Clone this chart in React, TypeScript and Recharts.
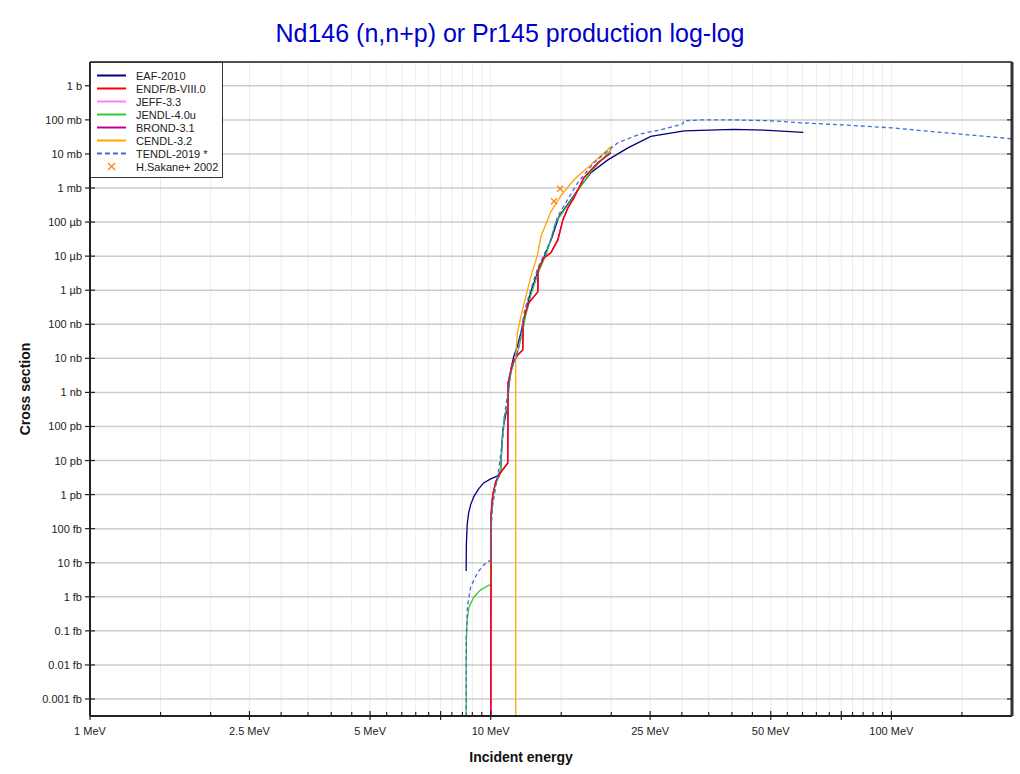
import React from "react";
import { ComposedChart, Line, Scatter, XAxis, YAxis, CartesianGrid } from "recharts";

const FONT = "'Liberation Sans', Arial, Helvetica, sans-serif";

// energy axis ticks (MeV)
const xLabelled = [1, 2.5, 5, 10, 25, 50, 100];
const xMajor = [1, 2.5, 5, 7.5, 10, 25, 50, 75, 100];
const xMinor = [
  1.5, 2, 3, 3.5, 4, 4.5, 5.5, 6, 6.5, 7, 8, 8.5, 9, 9.5,
  15, 20, 30, 35, 40, 45, 55, 60, 65, 70, 80, 85, 90, 95, 150,
];
const xAll = [...xMajor, ...xMinor].sort((a, b) => a - b);

// cross section ticks (barn)
const yTicks = [
  1, 1e-1, 1e-2, 1e-3, 1e-4, 1e-5, 1e-6, 1e-7, 1e-8, 1e-9,
  1e-10, 1e-11, 1e-12, 1e-13, 1e-14, 1e-15, 1e-16, 1e-17, 1e-18,
];
const yLabels = [
  "1 b", "100 mb", "10 mb", "1 mb", "100 µb", "10 µb", "1 µb", "100 nb", "10 nb", "1 nb",
  "100 pb", "10 pb", "1 pb", "100 fb", "10 fb", "1 fb", "0.1 fb", "0.01 fb", "0.001 fb",
];

// [energy MeV, cross section b]
const eaf2010: [number, number][] = [
  [8.685, 5.75e-15], [8.695, 3.3e-14], [8.735, 1.29e-13], [8.81, 2.9e-13], [8.91, 5.0e-13],
  [9.07, 8.6e-13], [9.33, 1.47e-12], [9.6, 2.2e-12], [10.0, 2.9e-12], [10.41, 3.55e-12],
  [10.59, 4.97e-12], [10.65, 2.06e-11], [10.72, 7.9e-11], [10.9, 2.19e-10], [11.03, 4.3e-10],
  [11.09, 1.36e-9], [11.22, 4.6e-9], [11.41, 1.1e-8], [11.68, 2.49e-8], [11.95, 6.9e-8],
  [12.23, 2.3e-7], [12.59, 8.95e-7], [13.11, 3.46e-6], [13.73, 1.25e-5], [14.21, 3.45e-5],
  [14.79, 1.43e-4], [15.85, 4.5e-4], [16.5, 8.85e-4], [17.78, 2.8e-3], [19.61, 6.7e-3],
  [22.0, 0.0151], [25.1, 0.0329], [30.4, 0.0477], [40.5, 0.0528], [49.3, 0.0493], [60.3, 0.0431],
];

const endf8: [number, number][] = [
  [10.0, 1e-22], [10.02, 2.54e-13], [10.12, 9.8e-13], [10.29, 2.36e-12], [10.53, 4.06e-12],
  [11.03, 8.5e-12], [11.05, 1.9e-9], [11.35, 7.4e-9], [11.68, 1.26e-8], [12.02, 1.77e-8],
  [12.06, 1.35e-7], [12.45, 4.26e-7], [13.11, 8.95e-7], [13.13, 3.96e-6], [13.57, 8.9e-6],
  [14.13, 1.25e-5], [14.71, 3.0e-5], [15.14, 1.16e-4], [15.58, 2.6e-4], [16.13, 5.15e-4],
  [17.08, 1.99e-3], [18.52, 5.5e-3], [19.95, 0.0108],
];

// JEFF-3.3 and BROND-3.1 lie under the ENDF curve
const jeff33: [number, number][] = endf8;
const brond31: [number, number][] = endf8;

const jendl4: [number, number][] = [
  [8.685, 1e-22], [8.695, 5.4e-17], [8.735, 2.1e-16], [8.83, 5.05e-16], [9.08, 9.9e-16],
  [9.44, 1.6e-15], [10.0, 2.34e-15], [10.02, 1.81e-13], [10.19, 1.38e-12], [10.39, 2.7e-12],
  [10.55, 3.8e-12], [10.7, 4.0e-11], [10.8, 1.9e-10], [11.01, 3.8e-10], [11.11, 1.9e-9],
  [11.33, 5.6e-9], [11.66, 1.45e-8], [11.95, 4.6e-8], [12.23, 1.77e-7], [12.59, 6.8e-7],
  [13.11, 3.0e-6], [13.8, 1.25e-5], [14.54, 1.0e-4], [15.85, 4.2e-4], [17.78, 3.0e-3],
  [19.95, 0.0132],
];

const cendl32: [number, number][] = [
  [11.55, 1e-22], [11.55, 1.26e-8], [11.66, 5.6e-8], [11.89, 1.65e-7], [12.09, 3.7e-7],
  [12.59, 2.47e-6], [13.09, 1.09e-5], [13.34, 3.7e-5], [14.13, 2.0e-4], [14.96, 5.9e-4],
  [16.13, 1.74e-3], [17.78, 4.8e-3], [20.07, 0.0173],
];

const tendl2019: [number, number][] = [
  [8.675, 1e-22], [8.685, 5.4e-17], [8.746, 5.05e-16], [8.913, 1.95e-15], [9.26, 5.0e-15],
  [9.6, 8.6e-15], [10.0, 1.21e-14], [10.03, 9.2e-14], [10.1, 4.35e-13], [10.29, 1.69e-12],
  [10.47, 5.3e-12], [10.7, 4.0e-11], [10.9, 3.8e-10], [11.22, 3.75e-9], [11.55, 1.1e-8],
  [11.75, 2.17e-8], [12.16, 2.65e-7], [12.59, 1.03e-6], [13.11, 4.5e-6], [13.65, 1.25e-5],
  [14.13, 3.0e-5], [14.68, 1.43e-4], [15.55, 4.5e-4], [16.48, 1.42e-3], [18.1, 5.5e-3],
  [20.74, 0.0212], [23.7, 0.039], [26.6, 0.051], [30.2, 0.0766], [30.3, 0.0938],
  [33.5, 0.1], [40.5, 0.1], [50.1, 0.094], [59.6, 0.082], [75.0, 0.0716],
  [100, 0.0585], [128, 0.0446], [155.8, 0.0364], [200, 0.0278],
];

const sakane2002: [number, number][] = [
  [14.39, 4.1e-4], [14.9, 9.5e-4],
];

const toPoints = (arr: [number, number][]) => arr.map(([e, xs]) => ({ e, xs }));

// drawing order: ENDF on top of JEFF/BROND
const series = [
  { name: "EAF-2010", color: "#000080", data: eaf2010, legend: 0 },
  { name: "JEFF-3.3", color: "#ff80ff", data: jeff33, legend: 2 },
  { name: "BROND-3.1", color: "#c00090", data: brond31, legend: 4 },
  { name: "JENDL-4.0u", color: "#33cc33", data: jendl4, legend: 3 },
  { name: "ENDF/B-VIII.0", color: "#ff0000", data: endf8, legend: 1 },
  { name: "CENDL-3.2", color: "#ffa500", data: cendl32, legend: 5 },
  { name: "TENDL-2019 *", color: "#4169e1", data: tendl2019, legend: 6, dash: "4 3" },
];
const legendItems = [...series].sort((a, b) => a.legend - b.legend);
const expName = "H.Sakane+ 2002";
const expColor = "#ff7f0e";

const XTick = ({ x, y, payload }: any) => {
  const v = payload.value;
  const major = xMajor.includes(v);
  return (
    <g>
      <line x1={x} x2={x} y1={y - (major ? 5 : 4)} y2={y + (major ? 4 : 0)} stroke="#222" strokeWidth={1.2} />
      {xLabelled.includes(v) && (
        <text x={x} y={y + 19} textAnchor="middle" fontSize={11} fontFamily={FONT} fill="#222">
          {`${v} MeV`}
        </text>
      )}
    </g>
  );
};

const YTick = ({ x, y, payload }: any) => {
  const i = yTicks.indexOf(payload.value);
  return (
    <g>
      <line x1={x - 5} x2={x + 5} y1={y} y2={y} stroke="#222" strokeWidth={1.2} />
      <text x={x - 8} y={y + 4} textAnchor="end" fontSize={11} fontFamily={FONT} fill="#222">
        {yLabels[i]}
      </text>
    </g>
  );
};

const RightTick = ({ x, y }: any) => (
  <line x1={x - 5} x2={x} y1={y} y2={y} stroke="#222" strokeWidth={1.2} />
);

const Cross = ({ cx, cy }: any) => (
  <g stroke={expColor} strokeWidth={1.2}>
    <line x1={cx - 3} y1={cy - 3} x2={cx + 3} y2={cy + 3} />
    <line x1={cx - 3} y1={cy + 3} x2={cx + 3} y2={cy - 3} />
  </g>
);

const Legend = () => (
  <div
    style={{
      position: "absolute", left: 90, top: 62, width: 133, height: 116,
      background: "#fff", border: "1px solid #333", boxSizing: "border-box",
    }}
  >
    <svg width={133} height={116}>
      {legendItems.map((s, i) => (
        <g key={s.name}>
          <line x1={6} x2={35} y1={12.5 + i * 13} y2={12.5 + i * 13} stroke={s.color} strokeWidth={2}
            strokeDasharray={s.dash ? "5 3" : undefined} />
          <text x={45} y={16.5 + i * 13} fontSize={11} fontFamily={FONT} fill="#222">{s.name}</text>
        </g>
      ))}
      <g stroke={expColor} strokeWidth={1.2}>
        <line x1={17} y1={100} x2={24} y2={107} />
        <line x1={17} y1={107} x2={24} y2={100} />
      </g>
      <text x={45} y={107.5} fontSize={11} fontFamily={FONT} fill="#222">{expName}</text>
    </svg>
  </div>
);

export default function App() {
  return (
    <div style={{ position: "absolute", left: 0, top: 0, width: 1020, height: 774, background: "#fff" }}>
      <div
        style={{
          position: "absolute", left: 0, width: 1020, top: 19, textAlign: "center",
          fontFamily: FONT, fontSize: 25, color: "#0000cc",
        }}
      >
        Nd146 (n,n+p) or Pr145 production log-log
      </div>
      <ComposedChart width={1020} height={774} margin={{ top: 61, right: 7, bottom: 0, left: 10 }}>
        <CartesianGrid xAxisId="bottom" yAxisId="left" horizontal={false} stroke="#ececec" strokeWidth={1} />
        <CartesianGrid xAxisId="top" yAxisId="left" stroke="#cdcdcd" strokeWidth={1.5} />
        <XAxis
          xAxisId="bottom" dataKey="e" type="number" scale="log" domain={[1, 200]} allowDataOverflow
          ticks={xAll} interval={0} height={58} tickSize={0} tickMargin={0} tickLine={false}
          tick={<XTick />} axisLine={{ stroke: "#222", strokeWidth: 2 }}
        />
        <XAxis
          xAxisId="top" orientation="top" dataKey="e" type="number" scale="log" domain={[1, 200]}
          allowDataOverflow ticks={xMajor} interval={0} height={1} tick={false} tickLine={false}
          axisLine={{ stroke: "#222", strokeWidth: 1.5 }}
        />
        <YAxis
          yAxisId="left" type="number" scale="log" domain={[3.17e-19, 5]} allowDataOverflow
          ticks={yTicks} interval={0} width={80} tickSize={0} tickMargin={0} tickLine={false}
          tick={<YTick />} axisLine={{ stroke: "#222", strokeWidth: 2 }}
        />
        <YAxis
          yAxisId="right" orientation="right" type="number" scale="log" domain={[3.17e-19, 5]}
          allowDataOverflow ticks={yTicks} interval={0} width={1} tickSize={0} tickMargin={0}
          tickLine={false} tick={<RightTick />} axisLine={{ stroke: "#333", strokeWidth: 3 }}
        />
        {series.map((s) => (
          <Line
            key={s.name} xAxisId="bottom" yAxisId="left" data={toPoints(s.data)} dataKey="xs"
            type="linear" stroke={s.color} strokeWidth={1.3} strokeDasharray={s.dash}
            dot={false} activeDot={false} isAnimationActive={false}
          />
        ))}
        <Scatter
          xAxisId="bottom" yAxisId="left" data={toPoints(sakane2002)} dataKey="xs"
          shape={<Cross />} isAnimationActive={false}
        />
      </ComposedChart>
      <Legend />
      <div
        style={{
          position: "absolute", left: 0, width: 1042, top: 749, textAlign: "center",
          fontFamily: FONT, fontSize: 14, fontWeight: "bold", color: "#111",
        }}
      >
        Incident energy
      </div>
      <div
        style={{
          position: "absolute", left: 25, top: 389, width: 0, height: 0,
          fontFamily: FONT, fontSize: 14, fontWeight: "bold", color: "#111",
        }}
      >
        <div style={{ position: "absolute", transform: "translate(-50%, -50%) rotate(-90deg)", whiteSpace: "nowrap" }}>
          Cross section
        </div>
      </div>
    </div>
  );
}
